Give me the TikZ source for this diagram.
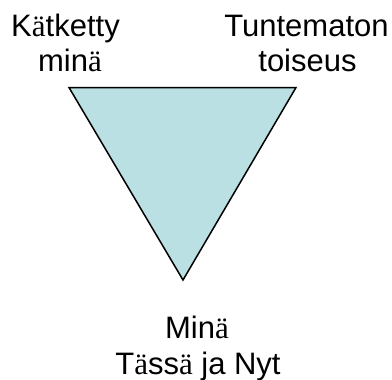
\documentclass[tikz,border=0pt]{standalone}
\usepackage{fontspec}
\setmainfont{Liberation Sans}
\newfontfamily\serifa{Liberation Serif}
\newcommand{\aum}{{\serifa ä}}
\definecolor{trifill}{RGB}{187,224,227}
\begin{document}
\begin{tikzpicture}[x=1pt,y=-1pt,
  lbl/.style={anchor=base,inner sep=0pt,font=\fontsize{31}{35}\selectfont}]
\useasboundingbox (0,0) rectangle (392,380);
\coordinate (tl) at (69,87.5);
\coordinate (tr) at (296,87.5);
\coordinate (bt) at (183,280);
\filldraw[fill=trifill,draw=black,line width=1.5pt,line join=miter] (tl) -- (tr) -- (bt) -- cycle;
\node[lbl] (k1) at (65.5,36.7) {K\aum tketty};
\node[lbl] (k2) at (70,71.7) {min\aum};
\node[lbl] (t1) at (306.5,36.7) {Tuntematon};
\node[lbl] (t2) at (307.5,71.7) {toiseus};
\node[lbl] (m1) at (197,338.3) {Min\aum};
\node[lbl] (m2) at (198,374) {T\aum ss\aum{} ja Nyt};
\end{tikzpicture}
\end{document}
